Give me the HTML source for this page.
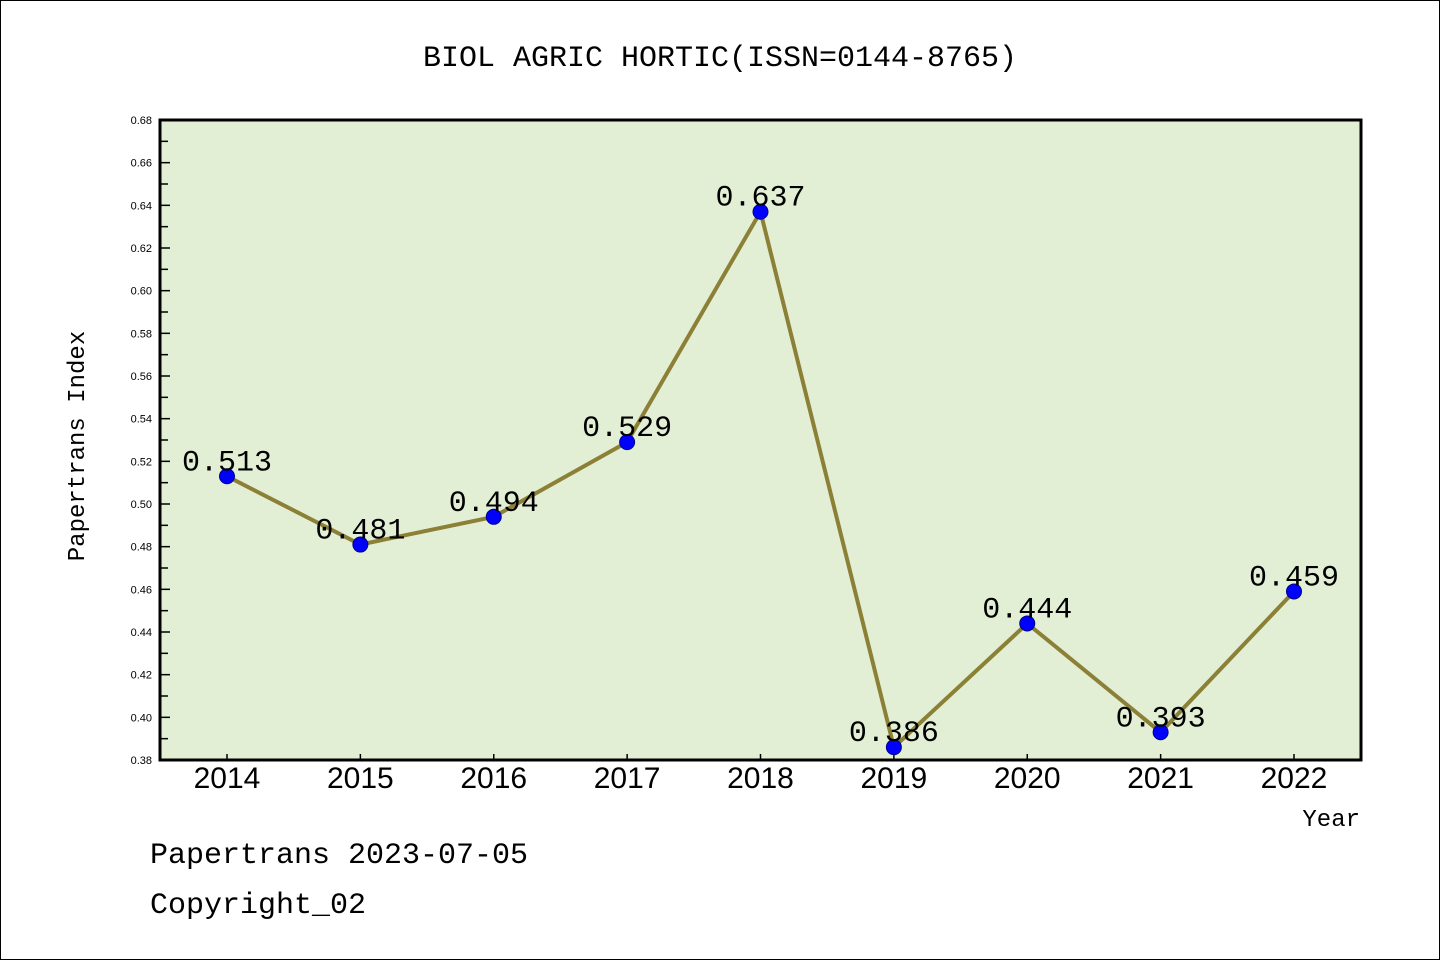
<!DOCTYPE html>
<html><head><meta charset="utf-8"><style>
body{margin:0;background:#fff}
svg{display:block}
text{font-family:"Liberation Sans","WenQuanYi Zen Hei",sans-serif}
.m{font-family:"WenQuanYi Zen Hei","Liberation Mono",monospace}
</style></head><body>
<svg id="c" width="1440" height="960" xmlns="http://www.w3.org/2000/svg">
<rect x="0.5" y="0.5" width="1439" height="959" fill="#fff" stroke="#000"/>
<text class="m" x="720" y="66" font-size="30" text-anchor="middle">BIOL AGRIC HORTIC(ISSN=0144-8765)</text>
<rect x="160" y="120" width="1201" height="640" fill="#e2efd5"/>
<g id="ticks"></g>
<g id="series"></g>
<rect x="160" y="120" width="1201" height="640" fill="none" stroke="#000" stroke-width="3"/>
<text class="m" x="0" y="0" font-size="24" text-anchor="middle" transform="translate(84,446) rotate(-90)">Papertrans Index</text>
<text class="m" x="1360" y="826" font-size="24" text-anchor="end">Year</text>
<text class="m" x="150" y="863" font-size="30">Papertrans 2023-07-05</text>
<text class="m" x="150" y="913" font-size="30">Copyright_02</text>
</svg>
<script>
const years=[2014,2015,2016,2017,2018,2019,2020,2021,2022];
const values=[0.513,0.481,0.494,0.529,0.637,0.386,0.444,0.393,0.459];
const valueLabels=["0.513","0.481","0.494","0.529","0.637","0.386","0.444","0.393","0.459"];
const yTicks=["0.38","0.40","0.42","0.44","0.46","0.48","0.50","0.52","0.54","0.56","0.58","0.60","0.62","0.64","0.66","0.68"];
const NS="http://www.w3.org/2000/svg";
const x=i=>227+i*(1294-227)/(years.length-1);
const y=v=>760-(v-0.38)*640/0.30;
function mk(t,a,p){const e=document.createElementNS(NS,t);for(const k in a)e.setAttribute(k,a[k]);p.appendChild(e);return e;}
const tg=document.getElementById('ticks'),sg=document.getElementById('series');
yTicks.forEach((t,i)=>{const v=parseFloat(t),yy=y(v);
 const tk=mk('line',{x1:160,x2:170,y1:yy,y2:yy,stroke:'#000','stroke-width':1.5},tg);
 
 
 const lb=mk('text',{x:152,y:yy+4,'font-size':11,'text-anchor':'end'},tg);lb.textContent=t;
 
 
 if(i<yTicks.length-1){const ym=y(v+0.01);
  const mn=mk('line',{x1:160,x2:168,y1:ym,y2:ym,stroke:'#000','stroke-width':1.5},tg);
  
  }
});
years.forEach((yr,i)=>{
 const tk=mk('line',{x1:x(i),x2:x(i),y1:760,y2:754,stroke:'#000','stroke-width':1.5},tg);
 
 
 const lb=mk('text',{x:x(i),y:788,'font-size':30,'text-anchor':'middle'},tg);lb.textContent=yr;
 
 
});
const ln=mk('polyline',{points:values.map((v,i)=>x(i)+','+y(v)).join(' '),fill:'none',stroke:'#8b8035','stroke-width':4},sg);


values.forEach((v,i)=>{
 const c=mk('circle',{cx:x(i),cy:y(v),r:7.5,fill:'#0000ff',stroke:'#00008b','stroke-width':1},sg);
 
 
 const t=mk('text',{class:'m',x:x(i),y:y(v)-6,'font-size':30,'text-anchor':'middle'},sg);t.textContent=valueLabels[i];
 
 
});
</script>
</body></html>
